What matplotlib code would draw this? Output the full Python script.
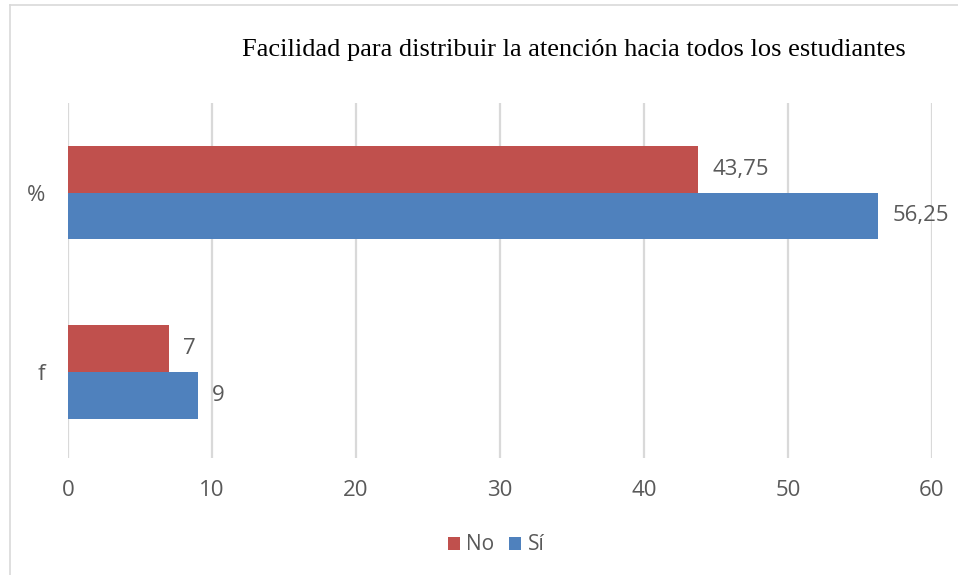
import matplotlib
matplotlib.use("Agg")
import matplotlib.pyplot as plt
import numpy as np
from matplotlib.lines import Line2D

categories = ["f", "%"]
no_values = [7, 43.75]
si_values = [9, 56.25]
no_labels = ["7", "43,75"]
si_labels = ["9", "56,25"]
xticks = [0, 10, 20, 30, 40, 50, 60]
title = "Facilidad para distribuir la atención hacia todos los estudiantes"

red = "#C0504D"
blue = "#4F81BD"
gray = "#595959"
grid = "#D9D9D9"
sans = ["Open Sans", "DejaVu Sans"]
fs = 16

fig = plt.figure(figsize=(9.58, 5.75), dpi=100)
ax = fig.add_axes([68/958, 1-458/575, (932-68)/958, (458-103)/575])

y = np.arange(len(categories))
h = 0.26
b1 = ax.barh(y + h/2, no_values, height=h, color=red, label="No", zorder=3)
b2 = ax.barh(y - h/2, si_values, height=h, color=blue, label="Sí", zorder=3)

for rect, lab in zip(b1, no_labels):
    ax.text(rect.get_width() + 1.0, rect.get_y() + rect.get_height()/2, lab,
            va="center", ha="left", color=gray, fontsize=fs, family=sans)
for rect, lab in zip(b2, si_labels):
    ax.text(rect.get_width() + 1.0, rect.get_y() + rect.get_height()/2, lab,
            va="center", ha="left", color=gray, fontsize=fs, family=sans)

ax.set_xlim(0, 60)
ax.set_ylim(-0.48, 1.5)
ax.set_xticks(xticks)
ax.set_xticklabels([str(t) for t in xticks], family=sans, fontsize=fs, color=gray)
ax.set_yticks(y)
ax.set_yticklabels(categories, family=sans, fontsize=fs, color=gray)
ax.tick_params(axis="both", length=0)
ax.tick_params(axis="x", pad=16)
ax.tick_params(axis="y", pad=16.5)
ax.xaxis.grid(True, color=grid, linewidth=1.6, zorder=0)
ax.set_axisbelow(True)
for s in ax.spines.values():
    s.set_visible(False)

fig.text(574/958, 1-50/575, title, ha="center", va="center",
         family=["Liberation Serif", "DejaVu Serif"], fontsize=19, color="black")

leg = fig.legend(handles=[b1, b2], labels=["No", "Sí"], loc="center",
                 bbox_to_anchor=(496/958, 1-545/575), ncol=2, frameon=False,
                 prop={"family": sans, "size": 15}, handlelength=0.6,
                 handleheight=0.6, handletextpad=0.3, columnspacing=0.7)
for t in leg.get_texts():
    t.set_color(gray)

fig.add_artist(Line2D([10/958, 10/958], [0, 1-5/575], transform=fig.transFigure, color=grid, linewidth=1.2))
fig.add_artist(Line2D([10/958, 1], [1-5/575, 1-5/575], transform=fig.transFigure, color=grid, linewidth=1.2))

fig.savefig("out.png", dpi=100)
